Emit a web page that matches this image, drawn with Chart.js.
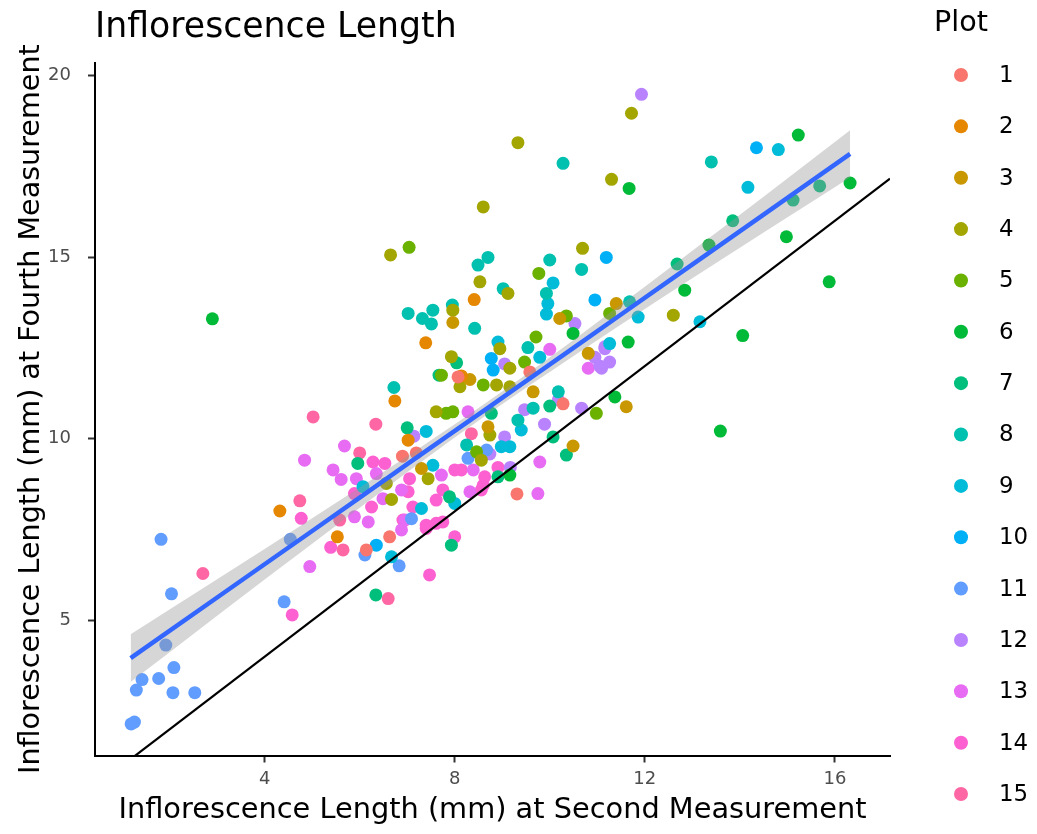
<!DOCTYPE html>
<html>
<head>
<meta charset="utf-8">
<script src="https://cdn.jsdelivr.net/npm/chart.js@4.4.1/dist/chart.umd.min.js"></script>
<style>
html,body{margin:0;padding:0;background:#fff;}
#wrap{width:1037px;height:834px;position:relative;}
canvas{display:block;}
</style>
</head>
<body>
<div id="wrap"><canvas id="c" width="1037" height="834"></canvas></div>
<script>
// ---------------- DATA ----------------
const plotLabels = ['1','2','3','4','5','6','7','8','9','10','11','12','13','14','15'];
const plotColors = ['#F8766D','#E58700','#C99800','#A3A500','#6BB100','#00BA38','#00BF7D','#00C0AF','#00BCD8','#00B0F6','#619CFF','#B983FF','#E76BF3','#FD61D1','#FF67A4'];

// [second measurement, fourth measurement] per plot
const plot1 = [[6.90,9.52],[7.19,9.61],[6.63,7.30],[6.14,6.94],[10.28,10.96],[9.31,8.48],[8.07,11.70],[9.58,11.84]];
const plot2 = [[4.32,8.01],[5.53,7.30],[6.74,11.04],[7.02,9.96],[8.41,13.83],[8.14,11.73],[7.39,12.64]];
const plot3 = [[7.30,9.18],[9.65,11.29],[10.49,9.80],[8.70,10.33],[8.32,11.63],[7.96,13.20],[10.21,13.31],[11.40,13.72],[11.61,10.88],[10.81,12.35]];
const plot4 = [[7.61,10.74],[6.56,8.77],[7.44,8.90],[6.67,8.33],[8.11,11.43],[8.88,11.48],[9.16,11.43],[8.74,10.10],[8.56,9.41],[10.69,15.24],[8.53,14.32],[9.12,14.00],[7.96,13.54],[8.95,12.48],[9.16,11.94],[7.93,12.26],[12.60,13.40],[9.33,18.15],[8.60,16.38],[6.65,15.06],[11.72,18.96],[11.30,17.14]];
const plot5 = [[7.82,10.70],[7.96,10.74],[8.60,11.48],[10.98,10.70],[8.46,9.64],[9.77,14.55],[10.35,13.38],[9.71,12.80],[9.47,12.11],[11.26,13.45],[7.04,15.27],[7.72,11.75]];
const plot6 = [[11.37,11.15],[9.16,9.00],[10.49,12.90],[12.84,14.09],[14.06,12.84],[11.65,12.66],[13.59,10.21],[15.23,18.36],[11.67,16.89],[16.32,17.04],[14.98,15.56],[15.88,14.32],[2.90,13.30],[13.35,15.33]];
const plot7 = [[7.00,10.30],[5.96,9.32],[7.89,8.40],[7.93,7.07],[6.34,5.70],[10.00,10.90],[8.77,10.70],[10.07,10.05],[10.35,9.55],[8.91,8.95],[8.04,12.09],[7.67,11.75],[13.85,16.00],[12.68,14.81],[15.68,16.96],[15.12,16.57]];
const plot8 = [[6.72,11.41],[10.18,11.29],[9.65,10.84],[9.33,10.51],[8.25,9.83],[8.70,14.99],[8.49,14.78],[10.00,14.92],[10.67,14.66],[9.02,14.13],[9.93,14.00],[7.95,13.68],[8.42,13.04],[9.54,12.51],[11.68,13.77],[10.28,17.58],[13.40,17.62],[7.02,13.45],[7.32,13.31],[7.54,13.54],[7.51,13.16]];
const plot9 = [[7.40,10.20],[7.54,9.27],[6.07,8.68],[7.30,8.08],[8.00,8.22],[6.67,6.75],[9.40,10.24],[8.98,9.78],[9.16,9.78],[10.07,14.29],[9.96,13.72],[9.93,13.43],[8.91,12.66],[9.79,12.24],[11.26,12.62],[11.86,13.35],[14.81,17.96],[14.17,16.92],[13.16,13.22]];
const plot10 = [[6.35,7.07],[11.19,14.99],[10.95,13.82],[8.77,12.21],[8.81,11.89],[14.35,18.01]];
const plot11 = [[1.82,7.23],[2.04,5.73],[1.92,4.32],[2.09,3.70],[1.77,3.40],[1.42,3.37],[1.30,3.08],[2.07,3.01],[2.53,3.01],[1.19,2.15],[1.26,2.20],[4.54,7.23],[4.41,5.51],[6.11,6.80],[6.83,6.50],[7.09,7.80],[8.28,9.46],[8.67,9.69]];
const plot12 = [[7.14,10.07],[10.18,11.07],[9.47,10.80],[10.67,10.84],[9.89,10.40],[9.05,10.05],[8.74,9.58],[9.17,9.21],[10.53,13.17],[9.05,12.06],[10.95,12.24],[11.16,12.53],[11.05,12.00],[11.26,12.11],[11.16,12.48],[11.09,11.94],[11.93,19.48]];
const plot13 = [[5.68,9.80],[4.84,9.41],[5.44,9.14],[5.61,8.88],[5.93,8.90],[6.35,9.04],[7.72,9.00],[6.18,7.71],[6.49,8.35],[6.88,8.59],[6.95,7.76],[5.89,7.85],[6.88,7.49],[8.28,10.74],[9.79,9.36],[9.75,8.49],[8.39,9.14],[8.32,8.54],[10.00,12.46],[10.81,11.94],[4.95,6.48]];
const plot14 = [[4.77,7.81],[5.39,7.01],[4.58,5.15],[6.53,9.32],[6.28,9.36],[7.05,8.90],[5.89,8.49],[6.25,8.12],[7.02,8.54],[7.12,8.12],[7.61,8.31],[7.75,8.59],[7.40,7.62],[7.61,7.67],[6.91,7.76],[7.40,7.53],[7.75,7.71],[8.00,7.30],[7.47,6.25],[8.91,9.21],[8.63,8.95],[8.60,8.72],[8.56,8.59],[8.14,9.14],[8.00,9.14]];
const plot15 = [[2.70,6.29],[4.74,8.29],[5.65,6.94],[5.02,10.60],[6.34,10.40],[6.00,9.61],[5.58,7.76],[6.60,5.60],[8.35,10.14]];
const plotData = [plot1,plot2,plot3,plot4,plot5,plot6,plot7,plot8,plot9,plot10,plot11,plot12,plot13,plot14,plot15];

// linear fit with confidence band
const fitX     = [1.18, 3.00, 5.00, 7.00, 8.75, 10.50, 12.50, 14.50, 16.32];
const fitY     = [3.96, 5.63, 7.46, 9.30, 10.90, 12.50, 14.34, 16.17, 17.84];
const bandLow  = [3.30, 5.13, 7.11, 9.08, 10.73, 12.28, 14.00, 15.68, 17.19];
const bandHigh = [4.62, 6.13, 7.81, 9.52, 11.07, 12.72, 14.68, 16.66, 18.49];
// 1:1 reference line
const refX = [0.43, 17.16];
const refY = [0.43, 17.16];

const xTicks = [4, 8, 12, 16];
const yTicks = [5, 10, 15, 20];
const xRange = [0.43, 17.16];
const yRange = [1.28, 20.35];

const titleText = 'Inflorescence Length';
const xTitle = 'Inflorescence Length (mm) at Second Measurement';
const yTitle = 'Inflorescence Length (mm) at Fourth Measurement';
const legendTitle = 'Plot';

// ---------------- CHART ----------------
const FONT = "'DejaVu Sans'";
Chart.defaults.font.family = FONT;

const pts = (xs, ys) => xs.map((x, i) => ({x: x, y: ys[i]}));

const datasets = [];
datasets.push({
  type: 'line', label: 'fit', data: pts(fitX, fitY),
  borderColor: '#3366FF', borderWidth: 4.5, pointRadius: 0, fill: false,
  cubicInterpolationMode: 'monotone', order: 0, isGroup: false
});
datasets.push({
  type: 'line', label: 'band high', data: pts(fitX, bandHigh),
  borderWidth: 0, borderColor: 'rgba(0,0,0,0)', pointRadius: 0,
  backgroundColor: 'rgba(153,153,153,0.4)', fill: '+1',
  cubicInterpolationMode: 'monotone', order: 1, isGroup: false
});
datasets.push({
  type: 'line', label: 'band low', data: pts(fitX, bandLow),
  borderWidth: 0, borderColor: 'rgba(0,0,0,0)', pointRadius: 0, fill: false,
  cubicInterpolationMode: 'monotone', order: 1, isGroup: false
});
datasets.push({
  type: 'line', label: 'ref', data: pts(refX, refY),
  borderColor: '#000000', borderWidth: 2.2, pointRadius: 0, fill: false, order: 2, isGroup: false
});
plotLabels.forEach((lab, i) => {
  datasets.push({
    type: 'scatter', label: lab,
    data: plotData[i].map(p => ({x: p[0], y: p[1]})),
    backgroundColor: plotColors[i], borderColor: plotColors[i], borderWidth: 0,
    pointRadius: 6.5, pointHoverRadius: 6.5, order: 3 + i, isGroup: true
  });
});

const plotLegend = {
  id: 'plotLegend',
  afterDraw(chart) {
    const ctx = chart.ctx;
    ctx.save();
    ctx.textAlign = 'left';
    ctx.fillStyle = '#000';
    ctx.font = '28.6px ' + FONT;
    ctx.textBaseline = 'alphabetic';
    ctx.fillText(legendTitle, 934, 31);
    ctx.font = '22.9px ' + FONT;
    ctx.textBaseline = 'middle';
    const groups = chart.data.datasets.filter(d => d.isGroup);
    groups.forEach((d, i) => {
      const y = 75 + i * 51.36;
      ctx.beginPath();
      ctx.arc(961, y, 7, 0, Math.PI * 2);
      ctx.fillStyle = d.backgroundColor;
      ctx.fill();
      ctx.fillStyle = '#000';
      ctx.fillText(d.label, 999, y + 1);
    });
    ctx.restore();
  }
};

new Chart(document.getElementById('c'), {
  type: 'scatter',
  data: { datasets: datasets },
  plugins: [plotLegend],
  options: {
    responsive: false,
    animation: false,
    devicePixelRatio: 1,
    events: [],
    layout: { padding: { left: 0, right: 147, top: 0, bottom: 0 } },
    plugins: {
      legend: { display: false },
      tooltip: { enabled: false },
      title: {
        display: true, text: titleText, align: 'start', fullSize: false,
        color: '#000', font: { size: 34.7, weight: 'normal', lineHeight: 1.2 },
        padding: { top: 7.2, bottom: 13.9 }
      }
    },
    scales: {
      x: {
        type: 'linear', min: xRange[0], max: xRange[1],
        afterFit(s) { s.height = 78.5; },
        afterBuildTicks(s) { s.ticks = xTicks.map(v => ({ value: v })); },
        ticks: { color: '#4D4D4D', font: { size: 18 }, padding: 6, autoSkip: false, maxRotation: 0 },
        grid: { display: true, drawOnChartArea: false, drawTicks: true, tickLength: 7, tickColor: '#333333', tickWidth: 2 },
        border: { display: true, color: '#000000', width: 2 },
        title: { display: true, text: xTitle, color: '#000', font: { size: 28.8, lineHeight: 1.2 }, padding: { top: 0, bottom: 6 } }
      },
      y: {
        type: 'linear', min: yRange[0], max: yRange[1],
        afterFit(s) { s.width = 95; },
        afterBuildTicks(s) { s.ticks = yTicks.map(v => ({ value: v })); },
        ticks: { color: '#4D4D4D', font: { size: 18 }, padding: 17, autoSkip: false },
        grid: { display: true, drawOnChartArea: false, drawTicks: true, tickLength: 7, tickColor: '#333333', tickWidth: 2 },
        border: { display: true, color: '#000000', width: 2 },
        title: { display: true, text: yTitle, color: '#000', font: { size: 28.6, lineHeight: 1.2 }, padding: { top: 14, bottom: 0 } }
      }
    }
  }
});
</script>
</body>
</html>
